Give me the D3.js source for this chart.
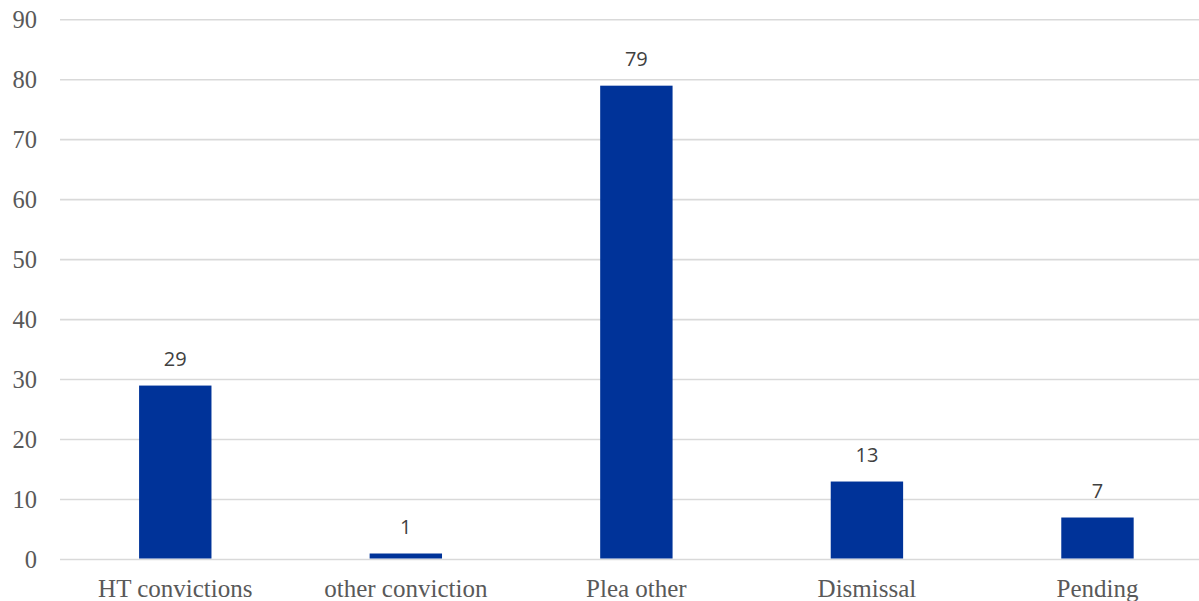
<!DOCTYPE html>
<html><head><meta charset="utf-8">
<script src="https://cdn.jsdelivr.net/npm/d3@7"></script>
<style>html,body{margin:0;padding:0;background:#fff;overflow:hidden}</style>
</head><body>
<svg id="chart" width="1199" height="601"></svg>
<script>
const categories = ["HT convictions", "other conviction", "Plea other", "Dismissal", "Pending"];
const values = [29, 1, 79, 13, 7];
const yTicks = [0, 10, 20, 30, 40, 50, 60, 70, 80, 90];

const svg = d3.select("#chart");
const x = d3.scaleBand().domain(categories).range([60, 1212.75]).padding(0);
const y = d3.scaleLinear().domain([0, 90]).range([559.5, 19.7]);
const barW = x.bandwidth() * 0.314;

// gridlines
svg.append("g").selectAll("line").data(yTicks).join("line")
  .attr("x1", 60).attr("x2", 1199)
  .attr("y1", d => y(d)).attr("y2", d => y(d))
  .attr("stroke", "#d9d9d9").attr("stroke-width", 1.6);

// y tick labels
svg.append("g").selectAll("text").data(yTicks).join("text")
  .attr("x", 37).attr("y", d => y(d) + 8.5)
  .attr("text-anchor", "end")
  .attr("font-family", "Liberation Serif, serif").attr("font-size", 24.5)
  .attr("fill", "#595959").text(d => d);

// bars
svg.append("g").selectAll("rect").data(values).join("rect")
  .attr("x", (d, i) => x(categories[i]) + x.bandwidth() / 2 - barW / 2)
  .attr("width", barW)
  .attr("y", d => y(d))
  .attr("height", d => y(0) - y(d) - 1)
  .attr("fill", "#003399");

// data labels
svg.append("g").selectAll("text").data(values).join("text")
  .attr("x", (d, i) => x(categories[i]) + x.bandwidth() / 2)
  .attr("y", d => y(d) - 19.5)
  .attr("text-anchor", "middle")
  .attr("font-family", "Open Sans, sans-serif").attr("font-size", 20)
  .attr("fill", "#404040").text(d => d);

// category labels
svg.append("g").selectAll("text").data(categories).join("text")
  .attr("x", d => x(d) + x.bandwidth() / 2)
  .attr("y", 597)
  .attr("text-anchor", "middle")
  .attr("font-family", "Liberation Serif, serif").attr("font-size", 25)
  .attr("fill", "#595959").text(d => d);
</script>
</body></html>
